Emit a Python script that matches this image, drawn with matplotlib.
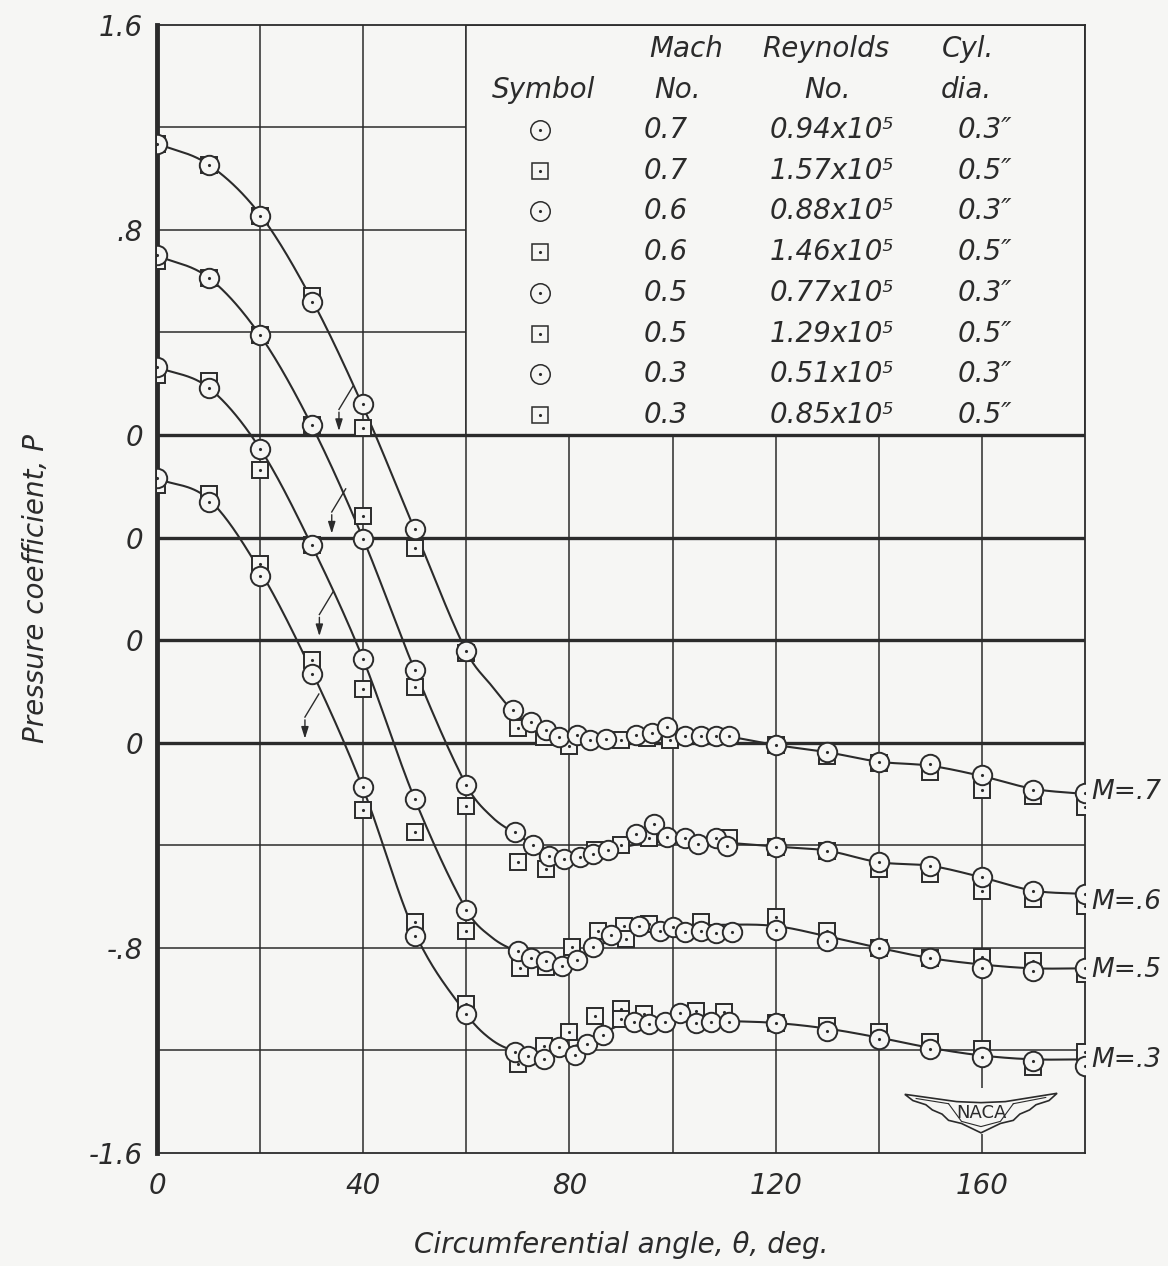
import numpy as np
import matplotlib
matplotlib.use("Agg")
import matplotlib.pyplot as plt
from matplotlib.patches import Rectangle, Polygon

plt.rcParams['font.family'] = ['DejaVu Sans']
plt.rcParams['font.style'] = 'italic'

bg = '#f6f6f4'
ink = '#2b2b2b'

# Mach numbers and the vertical shift of each curve (curves are stacked 0.4 apart)
mach = [0.7, 0.6, 0.5, 0.3]
shift = {0.7: 0.0, 0.6: -0.4, 0.5: -0.8, 0.3: -1.2}

# 0.3" cylinder (circles)
th_c7 = [0, 10, 20, 30, 40, 50, 60, 69, 72.5, 75.5, 78, 81.5, 84, 87, 93, 96, 99, 102.5, 105.5, 108.5, 111, 120, 130, 140, 150, 160, 170, 180]
p_c7 = [1.137, 1.052, 0.855, 0.519, 0.122, -0.368, -0.844, -1.074, -1.120, -1.150, -1.176, -1.170, -1.191, -1.185, -1.170, -1.163, -1.137, -1.172, -1.172, -1.172, -1.172, -1.209, -1.237, -1.274, -1.283, -1.326, -1.383, -1.396]
th_c6 = [0, 10, 20, 30, 40, 50, 60, 69.5, 73, 76, 79, 82, 84.5, 87.5, 93, 96.5, 99, 102.5, 105, 108.5, 110.5, 120, 130, 140, 150, 160, 170, 180]
p_c6 = [1.101, 1.014, 0.789, 0.438, -0.005, -0.517, -0.965, -1.149, -1.198, -1.240, -1.253, -1.247, -1.234, -1.218, -1.156, -1.117, -1.169, -1.173, -1.195, -1.173, -1.204, -1.205, -1.221, -1.266, -1.280, -1.325, -1.377, -1.390]
th_c5 = [0, 10, 20, 30, 40, 50, 60, 70, 72.5, 75.5, 78.5, 81.5, 84.5, 88, 93.5, 97.5, 100, 102.5, 105.5, 108.5, 111.5, 120, 130, 140, 150, 160, 170, 180]
p_c5 = [1.065, 0.983, 0.747, 0.370, -0.075, -0.620, -1.051, -1.211, -1.241, -1.253, -1.270, -1.246, -1.195, -1.150, -1.114, -1.133, -1.117, -1.140, -1.133, -1.143, -1.140, -1.129, -1.172, -1.202, -1.240, -1.280, -1.289, -1.280]
th_c3 = [0, 10, 20, 30, 40, 50, 60, 69.5, 72, 75, 78, 81, 83.5, 86.5, 92.5, 95.5, 98.5, 101.5, 104.5, 107.5, 111, 120, 130, 140, 150, 160, 170, 180]
p_c3 = [1.032, 0.939, 0.652, 0.269, -0.174, -0.755, -1.058, -1.208, -1.223, -1.234, -1.185, -1.218, -1.175, -1.140, -1.088, -1.097, -1.088, -1.056, -1.093, -1.088, -1.091, -1.095, -1.123, -1.156, -1.195, -1.227, -1.240, -1.262]

# 0.5" cylinder (squares)
th_s7 = [0, 10, 20, 30, 40, 50, 60, 70, 75, 80, 90, 95, 99.5, 120, 130, 140, 150, 160, 170, 180]
p_s7 = [1.137, 1.052, 0.855, 0.541, 0.027, -0.441, -0.850, -1.143, -1.178, -1.211, -1.191, -1.180, -1.191, -1.209, -1.250, -1.280, -1.315, -1.383, -1.409, -1.452]
th_s6 = [0, 10, 20, 30, 40, 50, 60, 70, 75.5, 85, 90, 95.5, 111, 120, 130, 140, 150, 160, 170, 180]
p_s6 = [1.078, 1.014, 0.789, 0.438, 0.083, -0.583, -1.045, -1.264, -1.292, -1.220, -1.200, -1.170, -1.170, -1.205, -1.221, -1.292, -1.312, -1.377, -1.410, -1.438]
th_s5 = [0, 10, 20, 30, 40, 50, 60, 70.5, 75.5, 80.5, 85.5, 90.5, 91, 95.5, 105.5, 120, 130, 140, 150, 160, 170, 180]
p_s5 = [1.035, 1.010, 0.662, 0.370, -0.190, -0.749, -1.133, -1.280, -1.276, -1.198, -1.133, -1.114, -1.166, -1.107, -1.100, -1.081, -1.133, -1.202, -1.240, -1.237, -1.250, -1.302]
th_s3 = [0, 10, 20, 30, 40, 50, 60, 70, 75, 80, 85, 90, 90, 94.5, 104.5, 110, 120, 130, 140, 150, 160, 170, 180]
p_s3 = [1.004, 0.971, 0.698, 0.321, -0.263, -0.698, -1.019, -1.253, -1.182, -1.130, -1.067, -1.039, -1.078, -1.058, -1.045, -1.052, -1.093, -1.104, -1.130, -1.166, -1.195, -1.266, -1.208]

# faired curves as drawn on the chart
th_fair = [0, 10, 20, 30, 40, 50, 60, 65, 70, 75, 80, 85, 90, 95, 100, 110, 120, 130, 140, 150, 160, 170, 180]
p_fair7 = [1.137, 1.055, 0.86, 0.53, 0.11, -0.37, -0.844, -0.98, -1.095, -1.15, -1.175, -1.18, -1.18, -1.175, -1.172, -1.175, -1.209, -1.237, -1.274, -1.29, -1.33, -1.38, -1.40]
p_fair6 = [1.10, 1.014, 0.789, 0.438, -0.005, -0.517, -0.965, -1.09, -1.16, -1.22, -1.24, -1.235, -1.21, -1.19, -1.185, -1.19, -1.205, -1.221, -1.266, -1.28, -1.325, -1.377, -1.39]
p_fair5 = [1.065, 0.985, 0.747, 0.370, -0.075, -0.62, -1.051, -1.16, -1.215, -1.245, -1.245, -1.20, -1.15, -1.125, -1.12, -1.11, -1.115, -1.155, -1.20, -1.24, -1.265, -1.28, -1.28]
p_fair3 = [1.03, 0.95, 0.67, 0.28, -0.18, -0.74, -1.058, -1.16, -1.205, -1.21, -1.19, -1.15, -1.10, -1.085, -1.08, -1.085, -1.093, -1.115, -1.15, -1.19, -1.22, -1.235, -1.235]

circles = {0.7: (th_c7, p_c7), 0.6: (th_c6, p_c6), 0.5: (th_c5, p_c5), 0.3: (th_c3, p_c3)}
squares = {0.7: (th_s7, p_s7), 0.6: (th_s6, p_s6), 0.5: (th_s5, p_s5), 0.3: (th_s3, p_s3)}
fair = {0.7: p_fair7, 0.6: p_fair6, 0.5: p_fair5, 0.3: p_fair3}

# legend table
leg_mach = ['0.7', '0.7', '0.6', '0.6', '0.5', '0.5', '0.3', '0.3']
leg_re = ['0.94x10⁵', '1.57x10⁵', '0.88x10⁵', '1.46x10⁵', '0.77x10⁵', '1.29x10⁵', '0.51x10⁵', '0.85x10⁵']
leg_dia = ['0.3″', '0.5″', '0.3″', '0.5″', '0.3″', '0.5″', '0.3″', '0.5″']
leg_sym = ['o', 's', 'o', 's', 'o', 's', 'o', 's']

# arrows pointing each curve to its own zero line
arrow_th = {0.7: 35.3, 0.6: 33.9, 0.5: 31.5, 0.3: 28.7}

ytick_pos = [1.6, 0.8, 0.0, -0.4, -0.8, -1.2, -2.0, -2.8]
ytick_lab = ['1.6', '.8', '0', '0', '0', '0', '-.8', '-1.6']


def smooth(x, y, n=600):
    x = np.asarray(x, float)
    y = np.asarray(y, float)
    m = np.zeros_like(y)
    m[1:-1] = (y[2:] - y[:-2]) / (x[2:] - x[:-2])
    m[0] = (y[1] - y[0]) / (x[1] - x[0])
    m[-1] = (y[-1] - y[-2]) / (x[-1] - x[-2])
    xs = np.linspace(x[0], x[-1], n)
    i = np.clip(np.searchsorted(x, xs) - 1, 0, len(x) - 2)
    h = x[i + 1] - x[i]
    t = (xs - x[i]) / h
    h00 = 2 * t**3 - 3 * t**2 + 1
    h10 = t**3 - 2 * t**2 + t
    h01 = -2 * t**3 + 3 * t**2
    h11 = t**3 - t**2
    ys = h00 * y[i] + h10 * h * m[i] + h01 * y[i + 1] + h11 * h * m[i + 1]
    return xs, ys


fig = plt.figure(figsize=(11.68, 12.66), dpi=100, facecolor=bg)
ax = fig.add_axes([0.1344, 0.0893, 0.7945, 0.8911], facecolor=bg)
ax.set_xlim(0, 180)
ax.set_ylim(-2.8, 1.6)

# grid
for x in range(20, 180, 20):
    ax.axvline(x, color=ink, lw=1.1, zorder=1)
for y in np.arange(-2.4, 1.6, 0.4):
    ax.axhline(y, color=ink, lw=1.1, zorder=1)

# the table sits in a blank panel over the grid
ax.add_patch(Rectangle((60, 0), 120, 1.6, facecolor=bg, edgecolor=ink, lw=1.1, zorder=2))

for m in mach:
    ax.axhline(shift[m], color=ink, lw=2.4, zorder=3)

for m in mach:
    xs, ys = smooth(th_fair, np.array(fair[m]) + shift[m])
    ax.plot(xs, ys, color=ink, lw=1.5, zorder=4)
    th, p = squares[m]
    ax.plot(th, np.array(p) + shift[m], 's', ms=12, mfc=bg, mec=ink, mew=1.4, zorder=5)
    ax.plot(th, np.array(p) + shift[m], '.', ms=2.5, color=ink, zorder=5)
    th, p = circles[m]
    ax.plot(th, np.array(p) + shift[m], 'o', ms=14, mfc=bg, mec=ink, mew=1.4, zorder=6)
    ax.plot(th, np.array(p) + shift[m], '.', ms=2.5, color=ink, zorder=7)

    xk = arrow_th[m]
    y0 = shift[m]
    ax.plot([xk + 2.7, xk], [y0 + 0.19, y0 + 0.10], color=ink, lw=1.0, zorder=4)
    ax.annotate('', xy=(xk, y0 + 0.005), xytext=(xk, y0 + 0.10),
                arrowprops=dict(arrowstyle='-|>,head_length=0.7,head_width=0.22', color=ink, lw=1.0), zorder=4)

# M= labels at the right end of each curve
for m, yl in zip(mach, [-1.393, -1.822, -2.088, -2.439]):
    ax.text(181.2, yl, 'M=' + ('%.1f' % m)[1:], fontsize=19, color=ink, va='center', ha='left', clip_on=False)

# legend table
tfs = 20
ax.text(102.6, 1.506, 'Mach', fontsize=tfs, ha='center', va='center', color=ink, zorder=8)
ax.text(129.8, 1.506, 'Reynolds', fontsize=tfs, ha='center', va='center', color=ink, zorder=8)
ax.text(157.3, 1.506, 'Cyl.', fontsize=tfs, ha='center', va='center', color=ink, zorder=8)
ax.text(74.9, 1.346, 'Symbol', fontsize=tfs, ha='center', va='center', color=ink, zorder=8)
ax.text(100.9, 1.346, 'No.', fontsize=tfs, ha='center', va='center', color=ink, zorder=8)
ax.text(130.1, 1.346, 'No.', fontsize=tfs, ha='center', va='center', color=ink, zorder=8)
ax.text(156.9, 1.346, 'dia.', fontsize=tfs, ha='center', va='center', color=ink, zorder=8)
for k in range(len(leg_mach)):
    yr = 1.19 - 0.1589 * k
    ax.plot(74.3, yr, leg_sym[k], ms=14 if leg_sym[k] == 'o' else 12, mfc=bg, mec=ink, mew=1.1, zorder=8)
    ax.plot(74.3, yr, '.', ms=2.5, color=ink, zorder=8)
    ax.text(98.7, yr, leg_mach[k], fontsize=tfs, ha='center', va='center', color=ink, zorder=8)
    ax.text(130.9, yr, leg_re[k], fontsize=tfs, ha='center', va='center', color=ink, zorder=8)
    ax.text(160.5, yr, leg_dia[k], fontsize=tfs, ha='center', va='center', color=ink, zorder=8)

ax.set_xticks([0, 40, 80, 120, 160])
ax.set_yticks(ytick_pos)
ax.set_yticklabels(ytick_lab)
ax.tick_params(length=0, labelsize=20, colors=ink, pad=10)
ax.tick_params(axis='x', pad=14)
ax.set_xlabel('Circumferential angle, θ, deg.', fontsize=20, color=ink, labelpad=22)
ax.set_ylabel('Pressure coefficient, P', fontsize=20, color=ink, labelpad=28)

for s in ['top', 'right', 'bottom']:
    ax.spines[s].set_linewidth(1.3)
    ax.spines[s].set_color(ink)
ax.spines['left'].set_linewidth(3.5)
ax.spines['left'].set_color(ink)

# NACA wings emblem
lg = fig.add_axes([0.7705, 0.1019, 0.1387, 0.0411], facecolor=bg, zorder=10)
lg.set_xlim(0, 1)
lg.set_ylim(0, 1)
lg.axis('off')
lg.add_patch(Rectangle((0.3, 0.05), 0.4, 0.9, facecolor=bg, edgecolor='none'))
wing = [(0.03, 0.82), (0.35, 0.68), (0.5, 0.66), (0.65, 0.68), (0.97, 0.84),
        (0.92, 0.70), (0.84, 0.62), (0.80, 0.52), (0.74, 0.44), (0.70, 0.32), (0.62, 0.26),
        (0.50, 0.08), (0.38, 0.26), (0.30, 0.32), (0.26, 0.44), (0.20, 0.52), (0.16, 0.62),
        (0.08, 0.70)]
lg.add_patch(Polygon(wing, closed=True, facecolor=bg, edgecolor=ink, lw=1.2))
lg.plot([0.10, 0.30], [0.74, 0.64], color=ink, lw=0.8)
lg.plot([0.90, 0.70], [0.76, 0.64], color=ink, lw=0.8)
lg.plot([0.30, 0.38, 0.5, 0.62, 0.70], [0.64, 0.30, 0.20, 0.30, 0.64], color=ink, lw=0.8)
lg.text(0.5, 0.46, 'NACA', fontsize=13, style='normal', ha='center', va='center', color=ink)

fig.savefig('out.png', dpi=100, facecolor=bg)
